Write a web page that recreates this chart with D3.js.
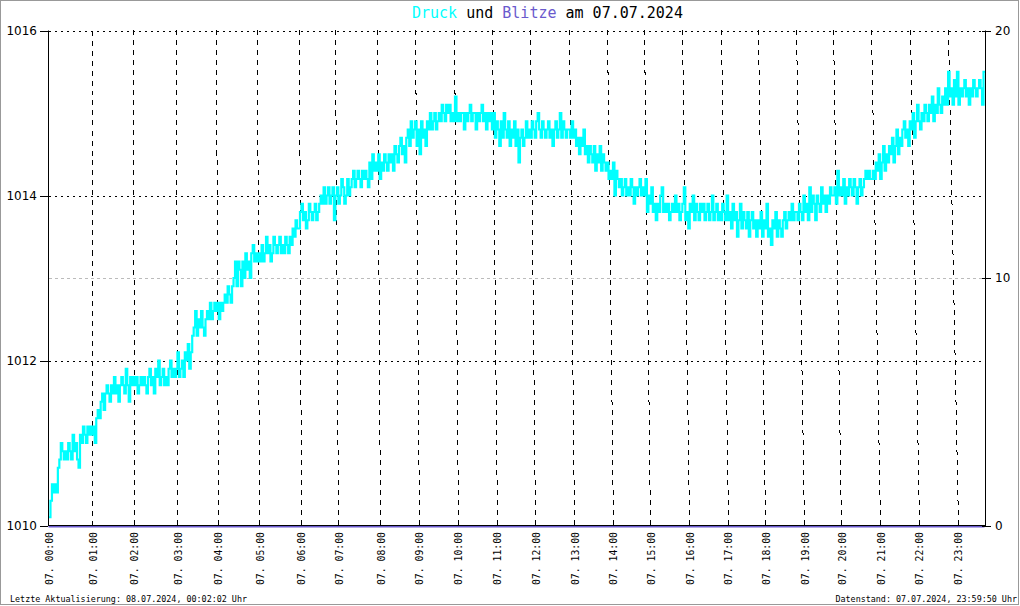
<!DOCTYPE html>
<html><head><meta charset="utf-8">
<script src="https://cdn.jsdelivr.net/npm/d3@7"></script>
<style>body{margin:0;background:#fff}svg{display:block}</style>
</head><body>
<script>
// Luftdruck (hPa), Messwerte je Stunde (07.07.2024)
const pressureByHour = [
  [1010.1,1010.3,1010.5,1010.4,1010.5,1010.4,1010.7,1010.8,1011.0,1010.9,1010.8,1010.9,1010.8,1011.0,1010.9,1010.8,1011.1,1010.9,1011.0,1010.8,1010.7,1011.1,1011.0,1011.2,1011.1,1011.0,1011.2,1011.1,1011.2],
  [1011.1,1011.2,1011.0,1011.3,1011.4,1011.3,1011.5,1011.6,1011.4,1011.6,1011.7,1011.6,1011.5,1011.7,1011.6,1011.8,1011.6,1011.7,1011.5,1011.7,1011.8,1011.7,1011.6,1011.9,1011.7,1011.5,1011.8,1011.7],
  [1011.8,1011.7,1011.8,1011.6,1011.7,1011.8,1011.7,1011.8,1011.7,1011.6,1011.8,1011.9,1011.7,1011.8,1011.6,1011.9,1011.8,1012.0,1011.7,1011.8,1011.9,1011.7,1011.8,1011.7,1011.9,1012.0,1011.8,1011.9,1011.8],
  [1011.9,1012.1,1011.8,1011.9,1012.0,1011.8,1012.1,1012.0,1012.2,1011.9,1012.1,1012.3,1012.4,1012.6,1012.3,1012.5,1012.4,1012.6,1012.4,1012.3,1012.5,1012.6,1012.5,1012.7,1012.5,1012.6,1012.7],
  [1012.6,1012.7,1012.5,1012.7,1012.6,1012.7,1012.8,1012.7,1012.9,1012.8,1012.7,1012.9,1013.0,1013.2,1012.9,1013.2,1013.1,1012.9,1013.2,1013.0,1013.3,1013.1,1013.2,1013.0,1013.3,1013.4,1013.2,1013.3],
  [1013.2,1013.3,1013.2,1013.4,1013.2,1013.3,1013.5,1013.3,1013.4,1013.2,1013.3,1013.5,1013.4,1013.3,1013.4,1013.5,1013.3,1013.4,1013.3,1013.5,1013.4,1013.3,1013.5,1013.4,1013.6,1013.5,1013.7,1013.6],
  [1013.6,1013.8,1013.9,1013.7,1013.8,1013.6,1013.7,1013.9,1013.8,1013.7,1013.8,1013.9,1013.7,1013.8,1013.9,1014.0,1013.9,1014.1,1013.9,1014.0,1014.1,1013.9,1014.0,1014.1,1013.7],
  [1014.0,1014.1,1013.9,1014.0,1014.2,1014.1,1013.9,1014.0,1014.2,1014.0,1014.1,1014.2,1014.3,1014.1,1014.2,1014.3,1014.2,1014.1,1014.3,1014.2,1014.3,1014.2,1014.1,1014.4,1014.2,1014.5,1014.3,1014.4],
  [1014.3,1014.5,1014.2,1014.4,1014.3,1014.5,1014.4,1014.3,1014.5,1014.4,1014.5,1014.3,1014.6,1014.5,1014.4,1014.6,1014.7,1014.5,1014.6,1014.4,1014.7,1014.8,1014.6,1014.9,1014.7,1014.8],
  [1014.9,1014.6,1014.8,1014.5,1014.9,1014.7,1014.8,1014.6,1014.9,1014.8,1015.0,1014.8,1014.9,1015.0,1014.8,1014.9,1015.0,1014.9,1015.1,1015.0,1014.9,1015.1,1015.0,1015.1,1014.9,1015.0],
  [1014.9,1015.2,1014.9,1015.0,1014.9,1015.0,1015.0,1014.8,1015.0,1014.9,1015.0,1015.1,1014.9,1015.0,1015.0,1014.8,1015.0,1014.9,1015.0,1015.1,1014.9,1015.0,1014.8,1015.0,1014.9,1015.0],
  [1014.8,1015.0,1014.7,1014.9,1014.8,1014.6,1014.9,1014.7,1015.0,1014.8,1014.7,1014.9,1014.6,1014.8,1014.7,1014.9,1014.6,1014.8,1014.4,1014.7,1014.8,1014.6,1014.7,1014.9,1014.7,1014.8],
  [1014.7,1014.9,1014.8,1014.7,1014.9,1015.0,1014.8,1014.7,1014.9,1014.8,1014.7,1014.8,1014.9,1014.7,1014.8,1014.6,1014.8,1014.9,1014.7,1014.8,1015.0,1014.7,1014.9,1014.8,1014.7,1014.8],
  [1014.8,1014.7,1014.9,1014.7,1014.8,1014.6,1014.7,1014.5,1014.7,1014.6,1014.8,1014.5,1014.6,1014.4,1014.6,1014.5,1014.4,1014.6,1014.3,1014.5,1014.4,1014.6,1014.3,1014.5,1014.4,1014.3],
  [1014.4,1014.2,1014.3,1014.2,1014.4,1014.0,1014.3,1014.2,1014.1,1014.2,1014.0,1014.1,1014.2,1014.0,1014.1,1014.0,1014.2,1014.1,1013.9,1014.1,1014.0,1014.1,1014.2,1014.0,1014.1],
  [1014.0,1014.2,1013.8,1014.0,1013.9,1014.1,1013.8,1013.9,1013.7,1013.9,1013.8,1014.0,1014.1,1013.8,1013.9,1013.8,1013.9,1013.7,1013.8,1013.9,1013.8,1014.0,1013.8,1013.9,1013.7,1013.8],
  [1013.9,1014.1,1013.7,1013.8,1013.6,1013.9,1013.8,1014.0,1013.7,1013.9,1013.8,1013.7,1013.9,1013.8,1013.9,1013.7,1013.8,1013.9,1013.7,1013.8,1014.0,1013.7,1013.8,1013.9,1013.7,1013.8],
  [1013.7,1013.9,1013.8,1013.7,1014.0,1013.7,1013.8,1013.6,1013.9,1013.7,1013.8,1013.5,1013.7,1013.9,1013.6,1013.8,1013.7,1013.6,1013.8,1013.5,1013.7,1013.8,1013.6,1013.7,1013.5],
  [1013.7,1013.6,1013.8,1013.5,1013.7,1013.6,1013.9,1013.5,1013.6,1013.4,1013.7,1013.6,1013.8,1013.5,1013.7,1013.6,1013.5,1013.7,1013.8,1013.6,1013.7,1013.8,1013.7,1013.9,1013.7,1013.8],
  [1013.8,1013.7,1013.9,1013.8,1013.7,1014.0,1013.8,1013.9,1013.7,1014.1,1013.8,1014.0,1013.9,1013.7,1014.0,1013.9,1013.8,1014.1,1013.9,1014.0,1013.8,1014.0,1013.9,1014.1,1014.0],
  [1014.0,1014.1,1013.9,1014.3,1014.0,1014.1,1014.0,1014.2,1013.9,1014.1,1014.0,1014.2,1014.1,1014.0,1014.2,1014.1,1013.9,1014.1,1014.2,1014.0,1014.1,1014.2,1014.3,1014.2,1014.3,1014.2],
  [1014.2,1014.3,1014.2,1014.4,1014.3,1014.5,1014.2,1014.4,1014.6,1014.3,1014.5,1014.4,1014.6,1014.5,1014.7,1014.4,1014.6,1014.8,1014.5,1014.7,1014.6,1014.8,1014.9,1014.7,1014.8,1014.6],
  [1014.9,1014.8,1015.0,1014.7,1014.9,1015.1,1014.9,1014.8,1015.0,1014.9,1015.1,1015.0,1014.9,1015.1,1015.0,1015.2,1014.9,1015.1,1015.0,1015.3,1015.1,1015.0,1015.2,1015.1,1015.3,1015.1],
  [1015.5,1015.2,1015.3,1015.1,1015.4,1015.2,1015.5,1015.1,1015.3,1015.2,1015.3,1015.4,1015.2,1015.3,1015.1,1015.3,1015.2,1015.4,1015.3,1015.2,1015.3,1015.4,1015.3,1015.1,1015.5]
];
// Blitze je Stunde
const blitze = [0,0,0,0,0,0,0,0,0,0,0,0,0,0,0,0,0,0,0,0,0,0,0,0];
const hourLabels = ["07. 00:00","07. 01:00","07. 02:00","07. 03:00","07. 04:00","07. 05:00",
  "07. 06:00","07. 07:00","07. 08:00","07. 09:00","07. 10:00","07. 11:00","07. 12:00",
  "07. 13:00","07. 14:00","07. 15:00","07. 16:00","07. 17:00","07. 18:00","07. 19:00",
  "07. 20:00","07. 21:00","07. 22:00","07. 23:00"];
const leftTicks = [1010, 1012, 1014, 1016];
const rightTicks = [0, 10, 20];
const titleParts = [["Druck","#00ffff"],[" und ","#000"],["Blitze","#6a5acd"],[" am 07.07.2024","#000"]];
const footLeft = "Letzte Aktualisierung: 08.07.2024, 00:02:02 Uhr";
const footRight = "Datenstand: 07.07.2024, 23:59:50 Uhr";

const W = 1020, H = 606;
const L = 49, R = 985, T = 30.5, B = 525.5;
const lean = 0.425; // horizontal drift of hour lines per hour (px, top→bottom)

const svg = d3.select("body").append("svg").attr("width", W).attr("height", H);
svg.append("rect").attr("x",0.5).attr("y",0.5).attr("width",1018).attr("height",604)
  .attr("fill","#fff").attr("stroke","#999");

const pressure = pressureByHour.flat();
const N = pressure.length;
const hourStart = [];
{ let acc = 0; pressureByHour.forEach(a => { hourStart.push(acc); acc += a.length; }); }

const x = d3.scaleLinear().domain([0, N]).range([L, R]);
const y = d3.scaleLinear().domain([1010, 1016]).range([B, T]);
const y2 = d3.scaleLinear().domain([0, 20]).range([B, T]);

// horizontal grid
svg.append("g").selectAll("line").data(leftTicks.filter(t => t > 1010)).join("line")
  .attr("x1", L).attr("x2", R).attr("y1", d => Math.round(y(d)) + 0.5).attr("y2", d => Math.round(y(d)) + 0.5)
  .attr("stroke", "#000").attr("stroke-dasharray", "2,4");
svg.append("g").selectAll("line").data(rightTicks.filter(t => t > 0 && t < 20)).join("line")
  .attr("x1", L).attr("x2", R).attr("y1", d => Math.round(y2(d)) + 0.5).attr("y2", d => Math.round(y2(d)) + 0.5)
  .attr("stroke", "#bbb").attr("stroke-dasharray", "3,3");

// hour lines
const hours = d3.range(24);
svg.append("g").selectAll("line").data(hours.slice(1)).join("line")
  .attr("x1", h => Math.round(x(hourStart[h])) + 0.5)
  .attr("x2", h => Math.round(x(hourStart[h]) + lean * h) + 0.5)
  .attr("y1", T).attr("y2", B)
  .attr("stroke", "#000").attr("stroke-dasharray", "5,5").attr("shape-rendering", "crispEdges");

// x labels
svg.append("g").selectAll("text").data(hours).join("text")
  .attr("transform", h => `translate(${x(hourStart[h]) + lean * h + 1},532) rotate(-90)`)
  .attr("text-anchor", "end").attr("dy", "0.35em")
  .attr("font-family", "DejaVu Sans Mono").attr("font-size", 9.8).attr("fill", "#000")
  .text(h => hourLabels[h]);

// pressure line
const pts = pressure.map((v, i) => [i, v]);
pts.push([N, pressure[N - 1]]);
svg.append("path").datum(pts)
  .attr("d", d3.line().x(d => x(d[0])).y(d => y(d[1])).curve(d3.curveStepAfter))
  .attr("fill", "none").attr("stroke", "#00ffff").attr("stroke-width", 2.2);

// axes
svg.append("line").attr("x1", 48.5).attr("x2", 48.5).attr("y1", T).attr("y2", B + 0.5).attr("stroke", "#000");
svg.append("line").attr("x1", R + 0.5).attr("x2", R + 0.5).attr("y1", T).attr("y2", B + 0.5).attr("stroke", "#000");
svg.append("line").attr("x1", 48.5).attr("x2", R + 0.5).attr("y1", B).attr("y2", B).attr("stroke", "#000");

// blitze line
const bpts = blitze.map((v, h) => [hourStart[h], v]);
bpts.push([N, blitze[blitze.length - 1]]);
svg.append("path").datum(bpts)
  .attr("d", d3.line().x(d => x(d[0])).y(d => y2(d[1]) + 1.2))
  .attr("fill", "none").attr("stroke", "#6a5acd").attr("stroke-width", 1.6)
  .attr("transform", "translate(-0.5,0)");

// left ticks + labels
svg.append("g").selectAll("line").data(leftTicks).join("line")
  .attr("x1", 40).attr("x2", 48).attr("y1", d => Math.round(y(d)) + 0.5).attr("y2", d => Math.round(y(d)) + 0.5)
  .attr("stroke", "#000");
svg.append("g").selectAll("text").data(leftTicks).join("text")
  .attr("x", 37).attr("y", d => y(d)).attr("dy", "0.36em").attr("text-anchor", "end")
  .attr("font-family", "DejaVu Sans").attr("font-size", 12).text(d => d);
// right ticks + labels
svg.append("g").selectAll("line").data(rightTicks).join("line")
  .attr("x1", 982).attr("x2", 991).attr("y1", d => Math.round(y2(d)) + 0.5).attr("y2", d => Math.round(y2(d)) + 0.5)
  .attr("stroke", "#000");
svg.append("g").selectAll("text").data(rightTicks).join("text")
  .attr("x", 995).attr("y", d => y2(d)).attr("dy", "0.36em").attr("text-anchor", "start")
  .attr("font-family", "DejaVu Sans").attr("font-size", 12).text(d => d);

// title
const title = svg.append("text").attr("x", 412).attr("y", 17.5)
  .attr("font-family", "DejaVu Sans Mono").attr("font-size", 15).attr("style", "white-space:pre");
title.selectAll("tspan").data(titleParts).join("tspan")
  .attr("fill", d => d[1]).text(d => d[0]);

// footers
svg.append("text").attr("x", 10).attr("y", 602).attr("font-family", "DejaVu Sans Mono")
  .attr("font-size", 8.4).text(footLeft);
svg.append("text").attr("x", 1017).attr("y", 602).attr("text-anchor", "end")
  .attr("font-family", "DejaVu Sans Mono").attr("font-size", 8.4).text(footRight);
</script>
</body></html>
